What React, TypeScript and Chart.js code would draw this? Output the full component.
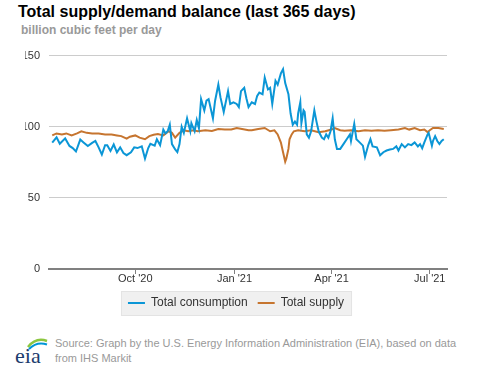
import React, { useEffect, useRef } from "react";
import { Chart, registerables } from "chart.js";

Chart.register(...registerables);

// ---- data ----
const START_DATE = "2020-07-15"; // day 0 of the 365-day window
const tickDates = ["2020-10-01", "2021-01-01", "2021-04-01", "2021-07-01"];
const tickLabels = ["Oct '20", "Jan '21", "Apr '21", "Jul '21"];
const yTicks = [0, 50, 100, 150];

// days since START_DATE
const consumptionDays = [
  1, 5, 8, 13, 17, 20, 23, 27, 30, 34, 38, 41, 44, 47, 50, 52, 55, 58, 61, 64, 67, 70, 74, 77, 80,
  84, 87, 90, 92, 96, 98, 101, 104, 106, 108, 110, 112, 115, 117, 119, 121, 123, 126, 129, 130,
  133, 135, 137, 139, 142, 144, 146, 148, 150, 152, 155, 157, 160, 164, 166, 169, 172, 174, 176,
  179, 181, 183, 186, 189, 191, 193, 196, 198, 201, 203, 205, 208, 210, 213, 215, 217, 220, 222,
  224, 226, 228, 229, 231, 232, 234, 235, 237, 239, 241, 244, 246, 248, 251, 253, 255, 257, 259,
  261, 263, 265, 268, 271, 274, 277, 278, 281, 283, 286, 289, 291, 294, 296, 298, 302, 305, 308,
  311, 314, 317, 320, 322, 325, 328, 331, 334, 337, 340, 342, 344, 346, 349, 350, 353, 354, 356,
  358, 360, 362, 364,
];
const consumptionValues = [
  88.9, 92.5, 88, 91.8, 86.5, 85, 82.6, 91, 89, 86.4, 88.6, 90, 85.5, 80.5, 87, 87, 83, 87.5, 82,
  85.5, 81.5, 80, 82, 85.5, 85, 86.2, 77.6, 85, 88, 86.7, 91.2, 87, 98, 95.3, 96.8, 101.4, 87.8,
  84, 82.1, 87.8, 100, 95.7, 105.9, 96.8, 102.5, 96.8, 104.7, 99, 119.4, 111.5, 118.3, 119.4,
  112.7, 105.9, 118.3, 129.6, 120.6, 110.4, 125, 116, 117.2, 116, 113.8, 125, 127.3, 120, 113.8,
  117.2, 116, 121.7, 124, 122.8, 134.6, 126.2, 127.3, 116, 132.3, 129.6, 137.5, 140.5, 130.7,
  122.8, 109.3, 101.4, 103.6, 101.4, 109.3, 117.2, 102.5, 111.5, 110.4, 94.6, 92.3, 96.8, 111.5,
  103.6, 96.8, 92.3, 91.2, 94.6, 92.3, 96.8, 105.9, 91.2, 84.4, 84.4, 87.8, 91.2, 94.6, 90, 102,
  91.2, 89, 86.7, 78.8, 87.1, 91.2, 86.2, 85.5, 79.9, 82.1, 83.3, 84, 84.4, 86.2, 83.3, 87.8, 85.5,
  87.8, 87.1, 89, 86.2, 87.8, 84.9, 89, 94.6, 95.7, 86.7, 90, 93.4, 90, 87.8, 90, 91.2,
];

const supplyDays = [
  1, 5, 10, 14, 19, 24, 28, 33, 38, 44, 50, 56, 61, 65, 70, 73, 78, 82, 87, 91, 95, 99, 104, 109,
  112, 115, 119, 123, 127, 132, 136, 143, 149, 155, 161, 167, 172, 177, 183, 186, 192, 198, 203,
  207, 210, 213, 215, 217, 218, 220, 221, 223, 225, 229, 235, 241, 248, 254, 260, 263, 268, 272,
  278, 285, 291, 297, 303, 309, 315, 322, 328, 332, 337, 342, 346, 349, 351, 354, 359, 364,
];
const supplyValues = [
  93.9, 95.3, 94.6, 95.3, 93.9, 95.3, 96.8, 95.7, 95.3, 95.3, 94.6, 94.6, 93.9, 93.4, 91.6, 93,
  93.9, 92.3, 91.2, 93.4, 94.4, 94.8, 93.9, 96.8, 95.7, 92.3, 95.7, 97.5, 96.8, 97.5, 96.8, 97.5,
  97, 98.4, 98, 98, 99.1, 98.4, 97.5, 97.5, 98.4, 99.1, 96.8, 97.5, 94.6, 88.9, 82.1, 75.5, 77.6,
  84.4, 91.2, 94.6, 96.8, 97.5, 96.8, 97.5, 96.2, 96.8, 98, 99.1, 97.5, 97.1, 97.5, 96.8, 97.5,
  97.1, 97.5, 97.1, 97.5, 98, 99.1, 98, 99.1, 97.5, 98, 96.2, 97.5, 99.1, 99.1, 98.4,
];

const BLUE = "#0b96d6";
const ORANGE = "#c6752f";
const FONT = "'Liberation Sans', Arial, sans-serif";

const dayOf = (d: string) => (Date.parse(d) - Date.parse(START_DATE)) / 86400000;

const legendBackground = {
  id: "legendBackground",
  beforeDraw(chart: any) {
    const lg = chart.legend;
    if (!lg || !lg.legendHitBoxes || !lg.legendHitBoxes.length) return;
    const boxes = lg.legendHitBoxes;
    const left = Math.min(...boxes.map((b: any) => b.left)) - 7;
    const right = Math.max(...boxes.map((b: any) => b.left + b.width)) + 8;
    const top = Math.min(...boxes.map((b: any) => b.top)) - 6;
    const bottom = Math.max(...boxes.map((b: any) => b.top + b.height)) + 7;
    const ctx = chart.ctx;
    ctx.save();
    ctx.fillStyle = "#f0f0f0";
    ctx.strokeStyle = "#e3e3e3";
    ctx.lineWidth = 1;
    ctx.fillRect(left, top, right - left, bottom - top);
    ctx.strokeRect(left + 0.5, top + 0.5, right - left - 1, bottom - top - 1);
    ctx.restore();
  },
};

function EiaChart() {
  const ref = useRef<HTMLCanvasElement | null>(null);
  useEffect(() => {
    if (!ref.current) return;
    const tickDays = tickDates.map(dayOf);
    const chart = new Chart(ref.current, {
      type: "line",
      data: {
        datasets: [
          {
            label: "Total consumption",
            data: consumptionDays.map((d, i) => ({ x: d, y: consumptionValues[i] })),
            borderColor: BLUE,
            backgroundColor: BLUE,
            borderWidth: 2,
            pointRadius: 0,
            tension: 0,
          },
          {
            label: "Total supply",
            data: supplyDays.map((d, i) => ({ x: d, y: supplyValues[i] })),
            borderColor: ORANGE,
            backgroundColor: ORANGE,
            borderWidth: 2,
            pointRadius: 0,
            tension: 0,
          },
        ],
      },
      options: {
        responsive: false,
        animation: false,
        devicePixelRatio: 1,
        layout: { padding: { left: 25, right: 30, top: 8, bottom: 11 } },
        plugins: {
          title: { display: false },
          tooltip: { enabled: false },
          legend: {
            display: true,
            position: "bottom",
            labels: {
              boxWidth: 17,
              boxHeight: 2,
              padding: 10,
              color: "#333",
              font: { family: FONT, size: 12 },
              generateLabels: (c: any) =>
                c.data.datasets.map((ds: any, i: number) => ({
                  text: ds.label,
                  fillStyle: ds.borderColor,
                  strokeStyle: ds.borderColor,
                  lineWidth: 0,
                  datasetIndex: i,
                  hidden: false,
                  fontColor: "#333",
                })),
            },
          },
        },
        scales: {
          x: {
            type: "linear",
            min: -2,
            max: 367,
            afterBuildTicks: (scale: any) => {
              scale.ticks = tickDays.map((v) => ({ value: v }));
            },
            afterFit: (scale: any) => {
              scale.height = 18;
            },
            ticks: {
              autoSkip: false,
              maxRotation: 0,
              padding: -2,
              color: "#333",
              font: { family: FONT, size: 11 },
              callback: (v: any) => {
                const i = tickDays.indexOf(Number(v));
                return i >= 0 ? tickLabels[i] : "";
              },
            },
            grid: {
              display: true,
              drawOnChartArea: false,
              drawTicks: true,
              tickLength: 5,
              color: "#808080",
              lineWidth: 1,
            },
            border: { display: true, color: "#808080", width: 2 },
          },
          y: {
            min: 0,
            max: 150,
            afterBuildTicks: (scale: any) => {
              scale.ticks = yTicks.map((v) => ({ value: v }));
            },
            afterFit: (scale: any) => {
              scale.width = 24;
            },
            ticks: {
              padding: 9,
              color: "#333",
              font: { family: FONT, size: 11 },
            },
            grid: { color: "#cccccc", lineWidth: 1, drawTicks: false },
            border: { display: false },
          },
        },
      },
      plugins: [legendBackground],
    });
    return () => chart.destroy();
  }, []);
  return (
    <canvas
      ref={ref}
      width={477}
      height={290}
      style={{ position: "absolute", left: 0, top: 40, width: 477, height: 290 }}
    />
  );
}

export default function App() {
  return (
    <div
      style={{
        position: "absolute",
        left: 0,
        top: 0,
        width: 477,
        height: 367,
        background: "#fff",
        fontFamily: FONT,
        overflow: "hidden",
      }}
    >
      <div
        style={{
          position: "absolute",
          left: 18,
          top: 4,
          fontSize: 16,
          lineHeight: "16px",
          fontWeight: "bold",
          color: "#000",
          whiteSpace: "nowrap",
        }}
      >
        Total supply/demand balance (last 365 days)
      </div>
      <div
        style={{
          position: "absolute",
          left: 21,
          top: 24,
          fontSize: 12,
          lineHeight: "12px",
          fontWeight: "bold",
          color: "#999",
          whiteSpace: "nowrap",
        }}
      >
        billion cubic feet per day
      </div>
      <EiaChart />
      <svg
        width={36}
        height={30}
        style={{ position: "absolute", left: 14, top: 336 }}
      >
        <path d="M14 11 Q22 1 33 5" stroke="#8cc63f" strokeWidth={2.5} fill="none" />
        <path d="M15 13 Q23 5 33 8.5" stroke="#0096d6" strokeWidth={2} fill="none" />
        <text
          x={1}
          y={27}
          fontFamily="'Liberation Serif', 'DejaVu Serif', serif"
          fontSize={22}
          fill="#1d3c6e"
        >
          eia
        </text>
      </svg>
      <div
        style={{
          position: "absolute",
          left: 55,
          top: 335.5,
          fontSize: 11,
          lineHeight: "15.5px",
          color: "#999",
          whiteSpace: "nowrap",
        }}
      >
        Source: Graph by the U.S. Energy Information Administration (EIA), based on data
        <br />
        from IHS Markit
      </div>
    </div>
  );
}
